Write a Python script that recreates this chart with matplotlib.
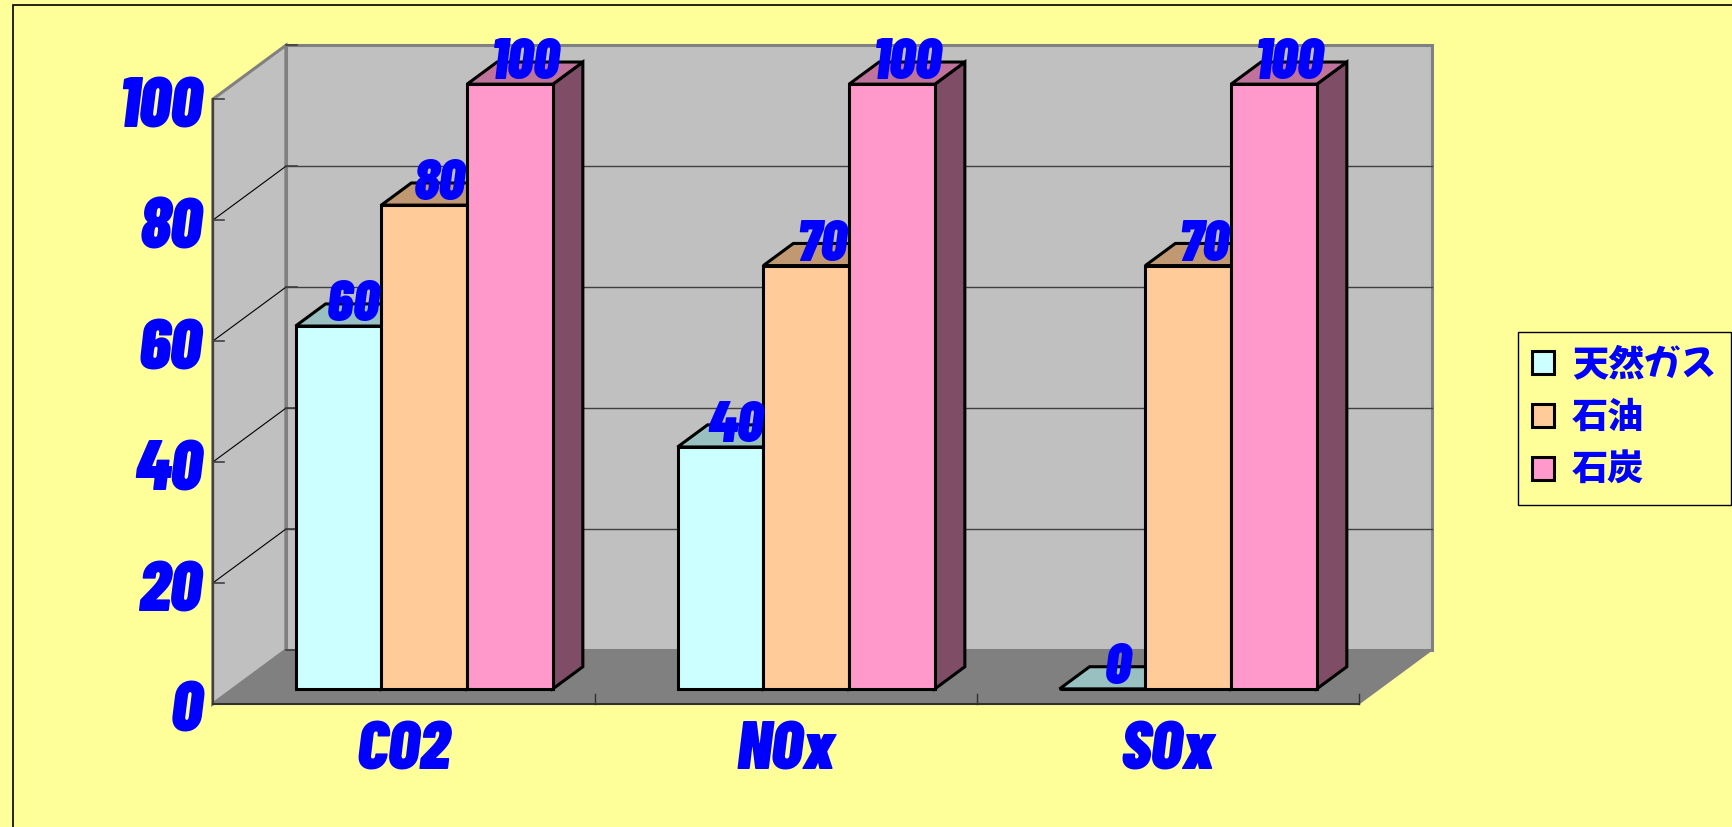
import matplotlib
matplotlib.use('Agg')
import matplotlib.pyplot as plt
from matplotlib.patches import Polygon, Rectangle, Patch
from matplotlib.font_manager import FontProperties
import numpy as np

# ---- data ----
categories = ['CO2', 'NOx', 'SOx']
series_names = ['天然ガス', '石油', '石炭']
natural_gas = [60, 40, 0]
oil = [80, 70, 70]
coal = [100, 100, 100]
y_ticks = [0, 20, 40, 60, 80, 100]

front_colors = ['#CCFFFF', '#FFCC99', '#FF99CC']
top_colors = ['#99C0C0', '#C09973', '#C0739A']
side_colors = ['#668080', '#806650', '#804D66']
TXT = '#0000FF'

W, H = 1733, 827
fig = plt.figure(figsize=(W / 100, H / 100), dpi=100, facecolor='#FFFF99')
ax = fig.add_axes([0, 0, 1, 1])
ax.set_axis_off()
ax.set_facecolor('#FFFF99')

# front plane: pixel x = X0 + XS*u, pixel y(from top) = Y0 - YS*v
X0, XS = 212.7, 382.0
Y0, YS = 704.0, 6.047
ax.set_xlim(-X0 / XS, (W - X0) / XS)
ax.set_ylim(-(H - Y0) / YS, Y0 / YS)
DX = 73.2 / XS      # full depth offset in category units
DY = 54.0 / YS      # full depth offset in value units

n = len(categories)
vmax = y_ticks[-1]

num_font = dict(family=['Barlow Condensed', 'Archivo Narrow', 'DejaVu Sans'],
                weight=900, style='italic', color=TXT)

# ---- walls and floor ----
ax.add_patch(Polygon([(0, 0), (DX, DY), (DX, vmax + DY), (0, vmax)],
                     closed=True, fc='#C0C0C0', ec='#808080', lw=2.2, zorder=1))
ax.add_patch(Polygon([(DX, DY), (n + DX, DY), (n + DX, vmax + DY), (DX, vmax + DY)],
                     closed=True, fc='#C0C0C0', ec='#808080', lw=2.2, zorder=1))
ax.add_patch(Polygon([(0, 0), (n, 0), (n + DX, DY), (DX, DY)],
                     closed=True, fc='#808080', ec='#808080', lw=1, zorder=1.2))

for v in y_ticks[1:-1]:
    ax.plot([DX, n + DX], [v + DY, v + DY], color='#404040', lw=1.0, zorder=1.5)
    ax.plot([0, DX], [v, v + DY], color='black', lw=0.8, zorder=1.5)
for v in y_ticks:
    ax.plot([0, 11 / XS], [v, v], color='#404040', lw=1.2, zorder=1.6)
    ax.plot([DX, DX + 11 / XS], [v + DY, v + DY], color='#404040', lw=1.2, zorder=1.6)
ax.plot([0, 0], [0, vmax], color='#404040', lw=1.5, zorder=1.7)
ax.plot([0, n], [0, 0], color='#303030', lw=1.5, zorder=1.7)
for k in range(1, n + 1):
    ax.plot([k, k], [0, 10 / YS], color='#303030', lw=1.0, zorder=1.7)

# y tick labels
for v in y_ticks:
    ax.text(-11 / XS, v - 28 / YS, str(v), ha='right', va='baseline',
            fontsize=51, **num_font)

# category labels
for k, c in enumerate(categories):
    ax.text(k + 0.5, -66 / YS, c, ha='center', va='baseline', fontsize=49, **num_font)

# ---- 3D bars ----
w = 0.2245
d_f, d_b = 0.28, 0.69
fdx, fdy = d_f * DX, d_f * DY
bdx, bdy = d_b * DX, d_b * DY
dm = (d_f + d_b) / 2
series = [natural_gas, oil, coal]
xs = np.arange(n)
for s, vals in enumerate(series):
    lefts = xs + 0.5 + (s - 1.5) * w
    z = 3 + s
    ax.bar(lefts + fdx, vals, width=w, bottom=fdy, align='edge',
           color=front_colors[s], edgecolor='black', linewidth=2.2, zorder=z + 0.5)
    for l, v in zip(lefts, vals):
        top = [(l + fdx, v + fdy), (l + w + fdx, v + fdy),
               (l + w + bdx, v + bdy), (l + bdx, v + bdy)]
        side = [(l + w + fdx, fdy), (l + w + bdx, bdy),
                (l + w + bdx, v + bdy), (l + w + fdx, v + fdy)]
        ax.add_patch(Polygon(side, closed=True, fc=side_colors[s], ec='black',
                             lw=2.2, joinstyle='miter', zorder=z))
        ax.add_patch(Polygon(top, closed=True, fc=top_colors[s], ec='black',
                             lw=2.2, joinstyle='miter', zorder=z + 0.2))
        ax.text(l + w / 2 + dm * DX, v + dm * DY - 6 / YS, str(v),
                ha='center', va='baseline', fontsize=42, zorder=10, **num_font)

# ---- legend ----
handles = [Patch(facecolor=front_colors[i], edgecolor='black', linewidth=2.2)
           for i in range(len(series_names))]
leg = fig.legend(handles, series_names, loc='upper left',
                 bbox_to_anchor=(1518 / W, 1 - 332 / H), borderaxespad=0,
                 prop=FontProperties(family=['Mochiy Pop One', 'Noto Sans CJK JP', 'DejaVu Sans'],
                                     size=26),
                 labelcolor=TXT, handlelength=0.6, handleheight=0.6,
                 handletextpad=0.5, labelspacing=0.38, borderpad=0.4,
                 fancybox=False, edgecolor='black', facecolor='#FFFF99',
                 framealpha=1)
leg.get_frame().set_linewidth(1.0)

# outer chart border (extends beyond the right/bottom edges)
fig.add_artist(Rectangle((13 / W, -0.1), 2, 1 - 5 / H + 0.1, transform=fig.transFigure,
                         fill=False, ec='black', lw=1.2))

fig.savefig('out.png', dpi=100, facecolor=fig.get_facecolor())
